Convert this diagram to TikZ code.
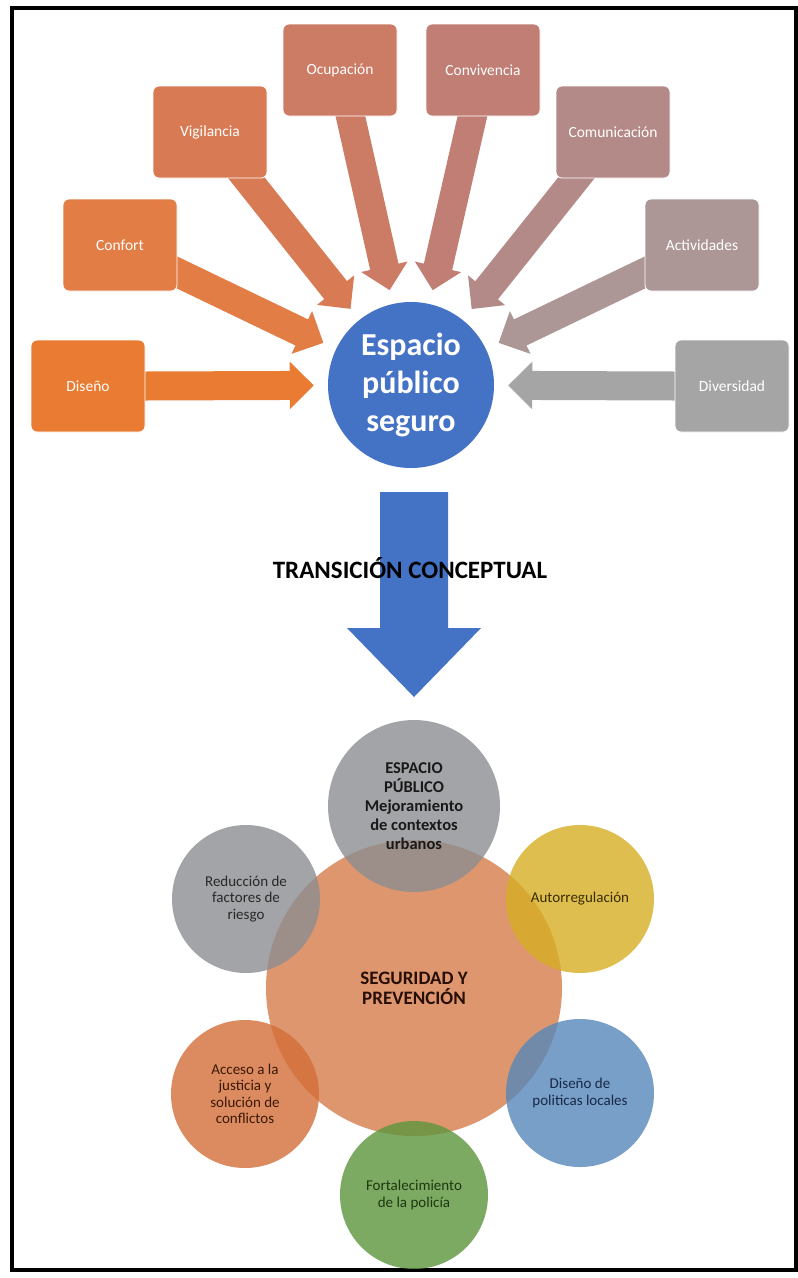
\documentclass[tikz,border=0pt]{standalone}
\usepackage{fontspec}
\setmainfont{Carlito}
\usetikzlibrary{arrows.meta}
\definecolor{cDis}{HTML}{E97B32}
\definecolor{cCon}{HTML}{E27D45}
\definecolor{cVig}{HTML}{D87B55}
\definecolor{cOcu}{HTML}{CC7B64}
\definecolor{cCvv}{HTML}{C07E74}
\definecolor{cCom}{HTML}{B48A88}
\definecolor{cAct}{HTML}{AD9696}
\definecolor{cDiv}{HTML}{A5A5A5}
\definecolor{cBlue}{HTML}{4472C4}
\definecolor{cCenter}{RGB}{214,124,74}
\definecolor{cGray}{RGB}{140,142,146}
\definecolor{cYel}{RGB}{214,174,36}
\definecolor{cBlu2}{RGB}{86,136,186}
\definecolor{cGre}{RGB}{92,149,61}
\definecolor{cOra}{RGB}{211,111,55}
\begin{document}
\begin{tikzpicture}[x=1pt,y=-1pt,
  box/.style={rectangle, rounded corners=6pt, minimum width=114pt, minimum height=92pt,
    inner sep=0pt, text=white, draw=white, line width=0.8pt,
    font=\fontsize{15.5}{18}\selectfont},
  bigarrow/.style={line width=29pt, -{Triangle[width=46pt,length=24pt]},
    shorten >=14pt, shorten <=-14pt},
  sat/.style={circle, minimum size=148pt, inner sep=0pt, fill opacity=0.8,
    text opacity=1, align=center, font=\fontsize{15}{16.5}\selectfont}]
\useasboundingbox (0,0) rectangle (798,1278);
\fill[white] (0,0) rectangle (798,1278);
\draw[line width=4pt] (12,8) rectangle (796,1270);

% centre circle (top)
\node[circle, fill=cBlue, minimum size=166pt, inner sep=0pt, text=white, align=center,
  font=\bfseries\fontsize{32}{38}\selectfont] (esp) at (411,385) {Espacio\\público\\seguro};

% box positions
\coordinate (pdis) at (88,386);
\coordinate (pcon) at (120,245);
\coordinate (pvig) at (210,132);
\coordinate (pocu) at (340,70);
\coordinate (pcvv) at (483,70);
\coordinate (pcom) at (613,132);
\coordinate (pact) at (702,245);
\coordinate (pdiv) at (732,386);

% arrows first (their start is hidden under the boxes)
\draw[bigarrow, draw=cDis] (pdis) ++(57,0) -- (esp);
\draw[bigarrow, draw=cCon] (pcon) -- (esp);
\draw[bigarrow, draw=cVig] (pvig) -- (esp);
\draw[bigarrow, draw=cOcu] (pocu) -- (esp);
\draw[bigarrow, draw=cCvv] (pcvv) -- (esp);
\draw[bigarrow, draw=cCom] (pcom) -- (esp);
\draw[bigarrow, draw=cAct] (pact) -- (esp);
\draw[bigarrow, draw=cDiv] (pdiv) ++(-57,0) -- (esp);

% boxes
\node[box, fill=cDis] (dis) at (pdis) {Diseño};
\node[box, fill=cCon] (con) at (pcon) {Confort};
\node[box, fill=cVig] (vig) at (pvig) {Vigilancia};
\node[box, fill=cOcu] (ocu) at (pocu) {Ocupación};
\node[box, fill=cCvv] (cvv) at (pcvv) {Convivencia};
\node[box, fill=cCom] (com) at (pcom) {Comunicación};
\node[box, fill=cAct] (act) at (pact) {Actividades};
\node[box, fill=cDiv] (div) at (pdiv) {Diversidad};

% transition arrow
\fill[cBlue] (380,492) -- (448,492) -- (448,628) -- (481,628) -- (414,697)
  -- (347,628) -- (380,628) -- cycle;
\node[font=\bfseries\fontsize{25}{28}\selectfont, text=black] (trans) at (410,568)
  {TRANSICIÓN CONCEPTUAL};

% bottom cluster
\node[circle, minimum size=296pt, inner sep=0pt, fill=cCenter, fill opacity=0.8,
  text opacity=1, align=center, text={rgb,255:red,40;green,15;blue,5},
  font=\bfseries\fontsize{19}{20}\selectfont] (seg) at (414,988)
  {SEGURIDAD Y\\PREVENCIÓN};
\node[sat, minimum size=172pt, fill=cGray, text={rgb,255:red,25;green,25;blue,25},
  font=\bfseries\fontsize{16.5}{19}\selectfont] (ep) at (414,806)
  {ESPACIO\\PÚBLICO\\Mejoramiento\\de contextos\\urbanos};
\node[sat, fill=cGray, text={rgb,255:red,40;green,40;blue,40}] (red) at (246,899)
  {Reducción de\\factores de\\riesgo};
\node[sat, fill=cYel, text={rgb,255:red,60;green,45;blue,0}] (aut) at (580,899)
  {Autorregulación};
\node[sat, fill=cOra, text={rgb,255:red,60;green,25;blue,5}] (acc) at (245,1094)
  {Acceso a la\\justicia y\\solución de\\conflictos};
\node[sat, fill=cBlu2, text={rgb,255:red,25;green,40;blue,70}] (pol) at (580,1093)
  {Diseño de\\politicas locales};
\node[sat, fill=cGre, text={rgb,255:red,30;green,55;blue,15}] (for) at (414,1195)
  {Fortalecimiento\\de la policía};
\end{tikzpicture}
\end{document}
